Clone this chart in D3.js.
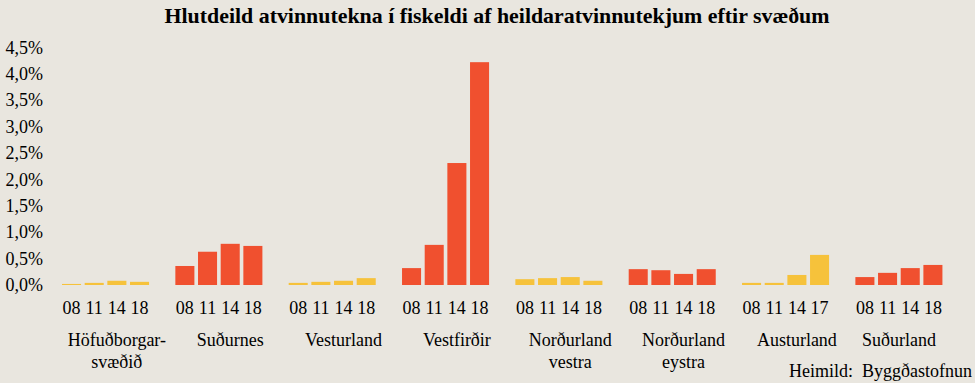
<!DOCTYPE html>
<html><head><meta charset="utf-8">
<script src="https://cdn.jsdelivr.net/npm/d3@7"></script>
<style>
html,body{margin:0;padding:0;background:#E9E6DF;}
svg{display:block;font-family:"Liberation Serif","Times New Roman",serif;}
</style></head>
<body><svg id="c" width="975" height="383"></svg>
<script>
const title = "Hlutdeild atvinnutekna í fiskeldi af heildaratvinnutekjum eftir svæðum";
const source = "Heimild:  Byggðastofnun";
const regions = ["Höfuðborgar-|svæðið", "Suðurnes", "Vesturland", "Vestfirðir", "Norðurland|vestra", "Norðurland|eystra", "Austurland", "Suðurland"];
const years = [
  ["08","11","14","18"], ["08","11","14","18"], ["08","11","14","18"], ["08","11","14","18"],
  ["08","11","14","18"], ["08","11","14","18"], ["08","11","14","17"], ["08","11","14","18"]
];
// share in percent
const values = [
  [0.02, 0.04, 0.08, 0.06],
  [0.36, 0.63, 0.78, 0.74],
  [0.04, 0.06, 0.08, 0.13],
  [0.32, 0.76, 2.31, 4.22],
  [0.11, 0.13, 0.15, 0.08],
  [0.30, 0.28, 0.21, 0.30],
  [0.04, 0.04, 0.19, 0.57],
  [0.15, 0.23, 0.32, 0.38]
];
const groupColors = ["#F6C23B", "#F0502F", "#F6C23B", "#F0502F", "#F6C23B", "#F0502F", "#F6C23B", "#F0502F"];
const yTicks = [0, 0.5, 1.0, 1.5, 2.0, 2.5, 3.0, 3.5, 4.0, 4.5];

const svg = d3.select("#c");
const y = d3.scaleLinear().domain([0, 4.5]).range([285, 47.4]);
const x = d3.scaleBand().domain(regions).range([60.2, 966.9]).padding(0);
const inner = d3.scaleBand().domain([0,1,2,3]).range([0, x.bandwidth()*0.8]).paddingInner(0.16).paddingOuter(0.08);

svg.append("text").attr("x", 497).attr("y", 23).attr("text-anchor","middle")
  .attr("font-weight","bold").attr("font-size", 22).attr("fill","#000")
  .attr("textLength", 665).attr("lengthAdjust","spacingAndGlyphs").text(title);

const fmt = v => v.toFixed(1).replace(".", ",") + "%";
svg.append("g").selectAll("text").data(yTicks).join("text")
  .attr("x", 43).attr("y", d => y(d)).attr("dy","0.34em").attr("text-anchor","end")
  .attr("font-size", 18).attr("fill","#000").text(fmt);

const g = svg.append("g").selectAll("g").data(regions).join("g")
  .attr("transform", d => `translate(${x(d)},0)`);

g.each(function(r, gi){
  const sel = d3.select(this);
  sel.selectAll("rect").data(values[gi]).join("rect")
    .attr("x", (v,i) => inner(i)).attr("width", inner.bandwidth())
    .attr("y", v => y(v)).attr("height", v => y(0) - y(v))
    .attr("fill", groupColors[gi]);
  sel.selectAll("text.yr").data(years[gi]).join("text").attr("class","yr")
    .attr("x", (v,i) => inner(i) + inner.bandwidth()/2).attr("y", 314)
    .attr("text-anchor","middle").attr("font-size",18).attr("fill","#000").text(v => v);
  const lines = r.split("|");
  const last = gi === regions.length - 1;
  const cx = last ? (inner.range()[0] + inner.range()[1]) / 2 : x.bandwidth() / 2;
  sel.selectAll("text.rg").data(lines).join("text").attr("class","rg")
    .attr("x", cx).attr("y", (l,i) => 346 + i*22)
    .attr("text-anchor","middle").attr("font-size",18).attr("fill","#000").text(l => l);
});

svg.append("text").attr("x", 972).attr("y", 377).attr("text-anchor","end")
  .attr("font-size",18).attr("fill","#000").style("white-space","pre").attr("xml:space","preserve").text(source);
</script></body></html>
